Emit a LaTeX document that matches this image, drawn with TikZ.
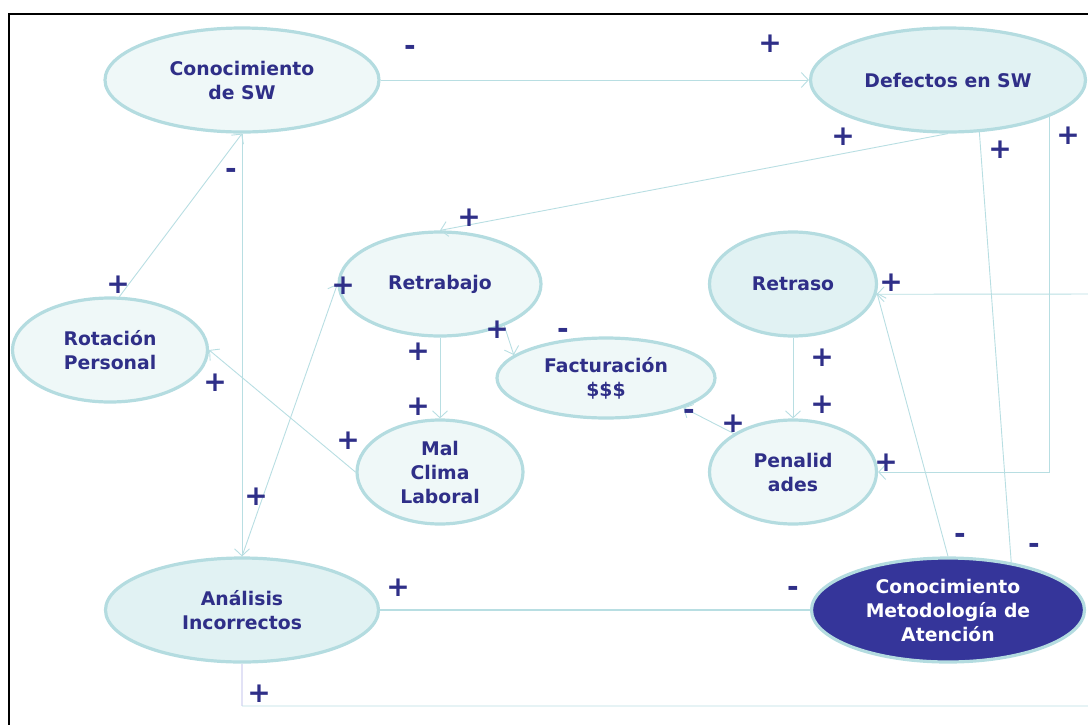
\documentclass[tikz,border=0pt]{standalone}
\usepackage{fontspec}
\setmainfont{DejaVu Sans}
\usetikzlibrary{shapes.geometric,arrows.meta,calc}
\definecolor{edgec}{HTML}{B8DEE2}
\definecolor{bordc}{HTML}{B4DCE0}
\definecolor{lightf}{HTML}{EFF8F8}
\definecolor{darkf}{HTML}{E1F2F3}
\definecolor{navyt}{HTML}{2F2F88}
\definecolor{navyf}{HTML}{35359A}
\definecolor{lav}{HTML}{E2E2F6}
\tikzset{
  bub/.style={ellipse, draw=bordc, line width=3.2pt, fill=lightf, inner sep=0pt,
    text=navyt, align=center, font=\fontsize{18.8}{24}\selectfont\bfseries},
  bubd/.style={bub, fill=darkf},
  edge/.style={draw=edgec, line width=0.9pt},
  arr/.style={edge, -{Straight Barb[length=7pt,width=15pt,line width=0.9pt]}},
  sgn/.style={text=navyt, font=\fontsize{28}{28}\selectfont\bfseries, inner sep=0pt}
}
\begin{document}
\begin{tikzpicture}[x=1pt,y=-1pt]
\useasboundingbox (0,0) rectangle (1088,724);
\clip (0,0) rectangle (1088,724);
% frame
\draw[black, line width=2pt] (9,730) -- (9,14) -- (1095,14);
% nodes
\node[bub, minimum width=274pt, minimum height=104pt] (csw) at (242,80) {Conocimiento\\de SW};
\node[bubd, minimum width=275pt, minimum height=104pt] (dsw) at (948,80) {Defectos en SW};
\node[bub, minimum width=202pt, minimum height=104pt] (rt) at (440,284) {Retrabajo};
\node[bubd, minimum width=167pt, minimum height=104pt] (rs) at (793,284) {Retraso};
\node[bub, minimum width=195pt, minimum height=104pt] (rp) at (110,350) {Rotación\\Personal};
\node[bub, minimum width=218pt, minimum height=80pt] (fac) at (606,378) {Facturación\\\$\$\$};
\node[bub, minimum width=166pt, minimum height=104pt] (mcl) at (440,472) {Mal\\Clima\\Laboral};
\node[bub, minimum width=167pt, minimum height=104pt] (pen) at (793,472) {Penalid\\ades};
\node[bubd, minimum width=273pt, minimum height=104pt] (ai) at (242,610) {Análisis\\Incorrectos};
\node[bub, fill=navyf, text=white, minimum width=273pt, minimum height=104pt] (cma) at (948,610) {Conocimiento\\Metodología de\\Atención};
% connectors
\draw[arr] (csw.east) -- (dsw.west);
\draw[arr] (csw.south) -- (ai.north);
\draw[arr] (rp.80) -- (csw.south);
\draw[arr] (dsw.south) -- (rt.north);
\draw[arr] (ai.north) -- (rt.west);
\draw[arr] (mcl.west) -- (rp.east);
\draw[arr] (rt.south) -- (mcl.north);
\draw[arr] (rt.-33) -- (fac.166);
\draw[arr] (pen.147) -- (fac.-21);
\draw[arr] (rs.south) -- (pen.north);
\draw[arr] (dsw.-20.7) |- (pen.east);
\draw[edge] (cma.37) -- (dsw.-59.5);
\draw[arr] (cma.north) -- (rs.-6);
\draw[edge, line width=2pt] (ai.east) -- (cma.west);
\coordinate (lb) at (ai.south |- 0,706);
\coordinate (rb) at (1110,706);
\coordinate (rt2) at (1110,294);
\draw[draw=lav, line width=1.4pt] (ai.south) -- (lb);
\draw[arr] (lb) -- (rb) -- (rt2) -- (rs.-7);
% signs
\node[sgn] (s1) at (410,50) {-};
\node[sgn] (s2) at (770,44) {+};
\node[sgn] (s3) at (843,137) {+};
\node[sgn] (s4) at (1000,150) {+};
\node[sgn] (s5) at (1068,136) {+};
\node[sgn] (s6) at (469,218) {+};
\node[sgn] (s7) at (231,173) {-};
\node[sgn] (s8) at (118,285) {+};
\node[sgn] (s9) at (343,286) {+};
\node[sgn] (s10) at (891,283) {+};
\node[sgn] (s11) at (497,330) {+};
\node[sgn] (s12) at (563,333) {-};
\node[sgn] (s13) at (418,352) {+};
\node[sgn] (s14) at (822,358) {+};
\node[sgn] (s15) at (215,383) {+};
\node[sgn] (s16) at (418,407) {+};
\node[sgn] (s17) at (822,405) {+};
\node[sgn] (s18) at (689,414) {-};
\node[sgn] (s19) at (733,424) {+};
\node[sgn] (s20) at (348,441) {+};
\node[sgn] (s21) at (886,463) {+};
\node[sgn] (s22) at (256,497) {+};
\node[sgn] (s23) at (960,538) {-};
\node[sgn] (s24) at (1034,548) {-};
\node[sgn] (s25) at (398,588) {+};
\node[sgn] (s26) at (793,591) {-};
\node[sgn] (s27) at (259,694) {+};
\end{tikzpicture}
\end{document}
